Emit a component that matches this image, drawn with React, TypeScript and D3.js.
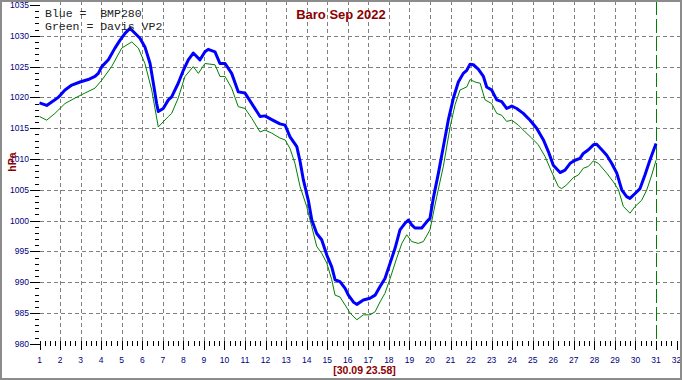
import React from "react";
import * as d3 from "d3";

const blueDays = [1.0,1.35,1.75,1.91,2.24,2.57,2.97,3.37,3.7,3.86,4.03,4.35,4.67,4.92,5.16,5.4,5.56,5.89,6.13,6.38,6.54,6.7,6.78,7.02,7.27,7.43,7.75,8.0,8.24,8.48,8.81,9.05,9.21,9.54,9.78,10.03,10.35,10.67,11.0,11.33,11.73,11.97,12.3,12.7,12.95,13.19,13.52,13.68,13.84,14.08,14.25,14.49,14.73,14.98,15.22,15.38,15.62,15.87,16.03,16.27,16.44,16.76,17.08,17.33,17.57,17.81,18.06,18.3,18.54,18.79,18.95,19.11,19.27,19.6,19.84,20.0,20.16,20.41,20.65,20.89,21.14,21.38,21.62,21.79,21.95,22.11,22.35,22.6,22.76,23.0,23.25,23.49,23.73,23.98,24.22,24.54,24.87,25.19,25.52,25.76,26.0,26.33,26.57,26.82,27.06,27.3,27.46,27.71,27.95,28.11,28.36,28.6,28.84,29.09,29.33,29.57,29.73,29.98,30.22,30.46,30.7,31.0];
const bluePressure = [1019.1,1018.7,1019.6,1020.0,1021.2,1022.0,1022.5,1022.9,1023.4,1023.9,1025.0,1026.1,1028.0,1029.3,1030.4,1031.2,1030.7,1029.6,1028.2,1025.5,1022.3,1019.0,1017.7,1018.2,1019.6,1020.1,1022.3,1024.4,1026.1,1027.2,1026.1,1027.4,1027.8,1027.4,1025.5,1025.5,1023.9,1020.9,1020.7,1019.0,1016.9,1017.0,1016.4,1015.7,1015.5,1013.6,1012.0,1009.6,1006.6,1003.3,1000.1,997.9,996.9,994.4,992.5,990.4,990.1,989.0,987.9,986.8,986.4,987.1,987.4,987.9,989.3,990.6,993.1,995.5,998.5,999.6,1000.1,999.3,998.8,998.8,999.8,1000.4,1003.6,1007.7,1012.0,1016.3,1019.9,1022.5,1023.9,1024.4,1025.4,1025.3,1024.6,1023.4,1021.7,1021.2,1019.6,1019.3,1018.2,1018.6,1018.2,1017.4,1016.3,1015.0,1013.1,1011.2,1009.0,1007.8,1008.2,1009.3,1009.8,1010.1,1010.9,1011.5,1012.3,1012.4,1011.5,1010.6,1009.3,1007.7,1005.0,1003.9,1003.6,1004.4,1005.2,1007.4,1009.8,1012.5];

const greenDays = [1.0,1.35,1.75,2.24,2.73,3.21,3.7,4.03,4.51,5.0,5.49,5.81,6.13,6.46,6.78,7.27,7.43,7.75,8.08,8.48,8.73,9.05,9.54,9.78,10.03,10.35,10.67,11.0,11.33,11.73,11.97,12.3,12.7,12.95,13.19,13.43,13.68,14.0,14.25,14.49,14.73,14.98,15.22,15.38,15.62,15.87,16.11,16.44,16.76,17.08,17.33,17.57,17.81,18.06,18.38,18.63,18.87,19.11,19.43,19.68,20.0,20.33,20.65,20.98,21.22,21.46,21.79,21.95,22.19,22.44,22.68,23.0,23.25,23.49,23.73,23.98,24.3,24.63,24.95,25.27,25.6,25.92,26.25,26.41,26.65,26.98,27.22,27.46,27.71,27.95,28.19,28.6,28.92,29.17,29.41,29.73,29.98,30.3,30.55,30.79,31.0];
const greenPressure = [1016.9,1016.3,1017.4,1019.0,1019.9,1020.7,1021.5,1022.8,1025.0,1028.0,1029.0,1028.0,1025.5,1021.2,1015.2,1016.9,1017.4,1019.9,1023.4,1025.0,1023.9,1025.5,1025.3,1023.4,1023.4,1021.5,1018.5,1018.2,1016.6,1014.4,1014.7,1014.2,1013.4,1013.1,1011.7,1009.3,1005.5,1002.3,999.0,995.8,994.7,993.1,990.4,987.9,987.6,986.3,985.0,983.9,984.7,984.7,985.2,986.8,988.2,990.6,993.9,996.3,997.7,996.6,996.3,996.6,998.5,1003.9,1008.8,1015.2,1018.8,1021.2,1021.7,1022.9,1022.5,1022.3,1019.6,1019.0,1017.4,1017.1,1016.1,1016.3,1015.5,1014.4,1013.4,1012.3,1010.4,1007.9,1005.5,1005.2,1005.8,1007.0,1007.4,1008.5,1008.8,1009.7,1009.3,1007.7,1006.3,1005.0,1002.3,1001.2,1002.3,1003.3,1005.0,1007.4,1009.8];

const yMajorTicks = [980,985,990,995,1000,1005,1010,1015,1020,1025,1030,1035];
const xDayTicks = d3.range(1, 33);
const title = "Baro Sep 2022";
const legendLines = ["Blue =  BMP280", "Green = Davis VP2"];
const yTitle = "hPa";
const xTitle = "[30.09 23.58]";
const markerDay = 31;

const W = 682, H = 380;
const x = d3.scaleLinear().domain([1, 32]).range([39.5, 676.6]);
const y = d3.scaleLinear().domain([980, 1035]).range([343.8, 5]);

const line = d3.line<[number, number]>().x(d => x(d[0])).y(d => y(d[1]));
const blue = blueDays.map((d, i) => [d, bluePressure[i]] as [number, number]);
const green = greenDays.map((d, i) => [d, greenPressure[i]] as [number, number]);

const labelFont = "'Liberation Sans', Arial, sans-serif";
const navy = "#000080";
const darkRed = "#8b0000";
const grid = "#808080";

export default function App() {
  const minorY = d3.range(981, 1035).filter(v => v % 5 !== 0);
  const minorX = d3.range(1, 32.01, 0.25).filter(v => Math.abs(v - Math.round(v)) > 0.01);
  const axisY = y(980);
  return (
    <svg width={W} height={H} style={{ position: "absolute", left: 0, top: 0, display: "block", background: "#fff" }}>
      <rect x={0} y={0} width={W} height={H} fill="#fff" />
      <g shapeRendering="crispEdges">
        {yMajorTicks.filter(v => v > 980 && v < 1035).map(v => (
          <line key={"hg" + v} x1={40} x2={680} y1={Math.round(y(v)) + 0.5} y2={Math.round(y(v)) + 0.5}
            stroke={grid} strokeDasharray="4,3" strokeWidth={1} />
        ))}
        {xDayTicks.filter(d => d > 1 && d < 31).map(d => (
          <line key={"vg" + d} x1={Math.round(x(d)) + 0.5} x2={Math.round(x(d)) + 0.5} y1={1} y2={axisY - 3}
            stroke={grid} strokeDasharray="4,3" strokeWidth={1} />
        ))}
        <line x1={Math.round(x(markerDay)) + 0.5} x2={Math.round(x(markerDay)) + 0.5} y1={1} y2={axisY}
          stroke="#008000" strokeWidth={1} strokeDasharray="14,4" />
        {yMajorTicks.map(v => (
          <line key={"yt" + v} x1={29.5} x2={40} y1={Math.round(y(v)) + 0.5} y2={Math.round(y(v)) + 0.5} stroke="#000" />
        ))}
        {minorY.map(v => (
          <line key={"ym" + v} x1={35} x2={38.5} y1={Math.round(y(v)) + 0.5} y2={Math.round(y(v)) + 0.5} stroke="#000" />
        ))}
        {xDayTicks.map(d => (
          <line key={"xt" + d} x1={Math.round(x(d)) + 0.5} x2={Math.round(x(d)) + 0.5} y1={340.5} y2={350} stroke="#000" />
        ))}
        {minorX.map(d => (
          <line key={"xm" + d} x1={Math.round(x(d)) + 0.5} x2={Math.round(x(d)) + 0.5} y1={341} y2={346} stroke="#000" />
        ))}
      </g>
      {yMajorTicks.map(v => (
        <text key={"yl" + v} x={29} y={y(v)} dy="0.35em" textAnchor="end" fontFamily={labelFont} fontSize={8.5} fill={navy}>{v}</text>
      ))}
      {xDayTicks.map(d => (
        <text key={"xl" + d} x={x(d)} y={363} textAnchor="middle" fontFamily={labelFont} fontSize={8.5} fill={navy}>{d}</text>
      ))}
      <path d={line(green) || ""} fill="none" stroke="#008000" strokeWidth={1} />
      <path d={line(blue) || ""} fill="none" stroke="#0000ff" strokeWidth={3} strokeLinejoin="round" />
      <text x={341} y={18.5} textAnchor="middle" fontFamily={labelFont} fontWeight="bold" fontSize={13} fill={darkRed}>{title}</text>
      {legendLines.map((t, i) => (
        <text key={"lg" + i} x={45} y={16.5 + i * 13} fontFamily="'Liberation Mono', 'Courier New', monospace" fontSize={11.5}
          fill="#222" style={{ whiteSpace: "pre" }} xmlSpace="preserve">{t}</text>
      ))}
      <text transform="translate(15.5,162) rotate(-90)" textAnchor="middle" fontFamily={labelFont} fontWeight="bold" fontSize={10.5} fill={darkRed}>{yTitle}</text>
      <text x={364.5} y={374} textAnchor="middle" fontFamily={labelFont} fontWeight="bold" fontSize={10.5} fill={darkRed}>{xTitle}</text>
      <rect x={1} y={1} width={W - 2} height={H - 2} fill="none" stroke="#8c8c8c" strokeWidth={2} />
    </svg>
  );
}
